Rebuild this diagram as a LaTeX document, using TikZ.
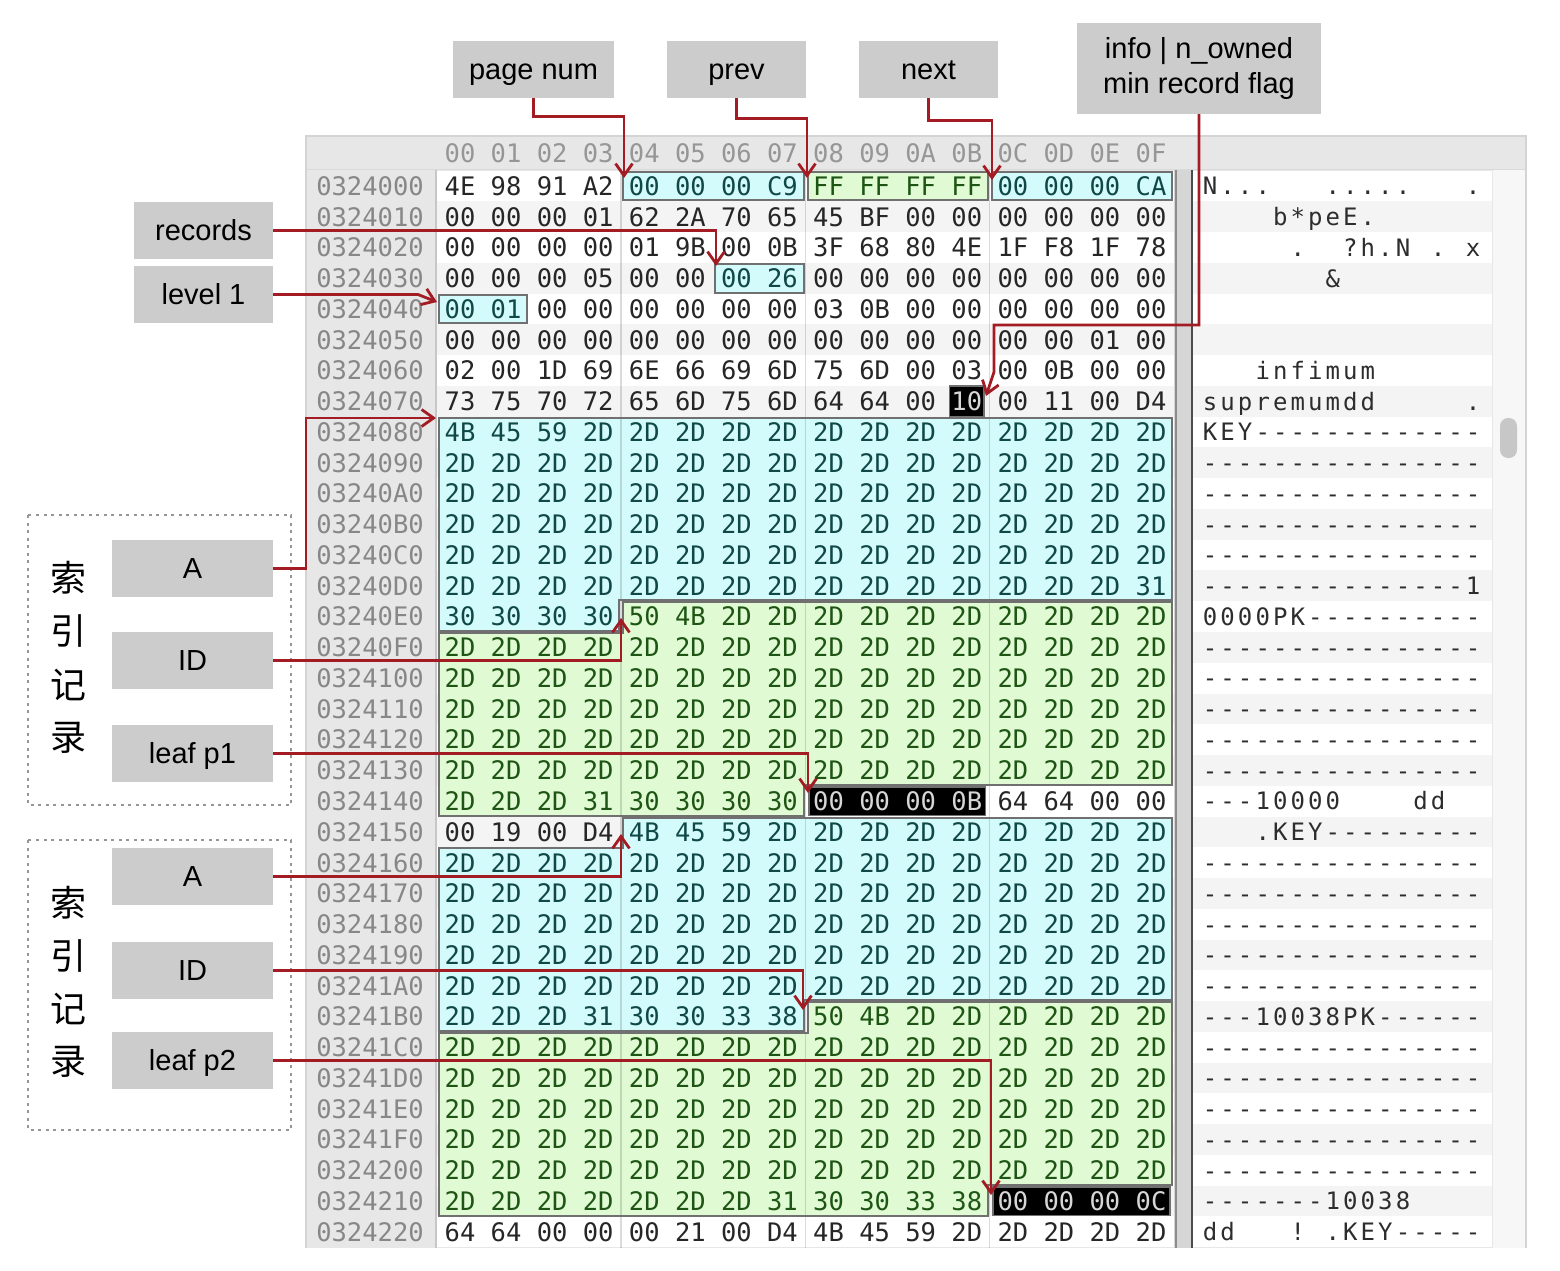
\documentclass[tikz,border=0pt]{standalone}
\usepackage{fontspec}
\setmainfont{Liberation Sans}
\newfontfamily\hexfont{DejaVu Sans Mono}
\newfontfamily\cjk{Noto Sans CJK SC}
\usetikzlibrary{arrows.meta}

\definecolor{arrowred}{RGB}{163,28,36}
\definecolor{labelgray}{RGB}{204,204,204}
\definecolor{cyanfill}{RGB}{212,251,252}
\definecolor{greenfill}{RGB}{224,251,212}
\definecolor{cyantext}{RGB}{16,72,72}
\definecolor{greentext}{RGB}{30,85,20}
\definecolor{plaintext}{RGB}{38,38,38}
\definecolor{blacktext}{RGB}{215,215,215}
\definecolor{offsettext}{RGB}{135,135,135}
\definecolor{headertext}{RGB}{150,150,150}
\definecolor{regionborder}{RGB}{112,112,112}
\definecolor{stripe}{RGB}{244,244,244}
\definecolor{panelgray}{RGB}{231,231,231}
\definecolor{panelborder}{RGB}{212,212,212}
\definecolor{sepgray}{RGB}{214,214,214}
\definecolor{asciitext}{RGB}{45,45,45}
\definecolor{dotgray}{RGB}{150,150,150}

\makeatletter
\newcommand\asciiline[1]{\@tfor\asch:=#1\do{\makebox[17.53pt][c]{\asch}}}
\makeatother

\newcommand\chk[4]{\ifnum#1<#2\relax\else\ifnum#1>#3\relax\else\gdef\hc{#4}\fi\fi}
\newcommand\setbc[1]{\gdef\hc{plaintext}%
 \chk{#1}{4}{7}{cyantext}\chk{#1}{8}{11}{greentext}\chk{#1}{12}{15}{cyantext}%
 \chk{#1}{54}{55}{cyantext}\chk{#1}{64}{65}{cyantext}\chk{#1}{123}{123}{blacktext}%
 \chk{#1}{128}{227}{cyantext}\chk{#1}{228}{327}{greentext}\chk{#1}{328}{331}{blacktext}%
 \chk{#1}{340}{439}{cyantext}\chk{#1}{440}{539}{greentext}\chk{#1}{540}{543}{blacktext}}

\newcommand\rowboxpath[4]{%
 \pgfmathsetmacro\rbxa{460+46.07*#2-21}%
 \pgfmathsetmacro\rbxb{460+46.07*#3+21}%
 \pgfmathsetmacro\rbya{186+30.76*#1-14.4}%
 \pgfmathsetmacro\rbyb{186+30.76*#1+14.4}%
 \path[#4] (\rbxa,\rbya) rectangle (\rbxb,\rbyb);}

\newcommand\regionpath[5]{%
 \pgfmathsetmacro\rgxa{460+46.07*#2-21}%
 \pgfmathsetmacro\rgxb{460+46.07*#4+21}%
 \pgfmathsetmacro\rgya{186+30.76*#1-14.4}%
 \pgfmathsetmacro\rgyb{186+30.76*(#1+1)-14.4}%
 \pgfmathsetmacro\rgyc{186+30.76*(#3-1)+14.4}%
 \pgfmathsetmacro\rgyd{186+30.76*#3+14.4}%
 \path[#5] (\rgxa,\rgya) -- (1172.1,\rgya) -- (1172.1,\rgyc) -- (\rgxb,\rgyc) -- (\rgxb,\rgyd) -- (439,\rgyd) -- (439,\rgyb) -- (\rgxa,\rgyb) -- cycle;}

\tikzset{
 hexbyte/.style={anchor=base, inner sep=0pt, font=\hexfont\fontsize{25.5}{26}\selectfont},
 asciitxt/.style={anchor=base west, inner sep=0pt, text=asciitext, font=\hexfont\fontsize{24}{24}\selectfont},
 lblbase/.style={fill=labelgray, inner sep=0pt, minimum width=#1, font=\fontsize{29}{35}\selectfont, align=center},
 lbl/.style={lblbase=#1, minimum height=57pt, text height=24pt, text depth=3.2pt},
 cjkchar/.style={inner sep=0pt, font=\cjk\fontsize{36}{36}\selectfont},
 arr/.style={draw=arrowred, line width=2.8pt, -{Straight Barb[length=12pt,width=17pt]}},
 groupbox/.style={draw=dotgray, line width=1.8pt, dash pattern=on 3pt off 4.5pt},
 blackbox/.style={fill=black, draw=regionborder, line width=1.5pt}
}

\newcommand\asc[2]{\node[asciitxt] (a#1) at (1201.2, 194.75+30.76*#1) {\asciiline{#2}};}

\begin{document}
\begin{tikzpicture}[x=1pt,y=-1pt]
\useasboundingbox (0,0) rectangle (1560,1270);
\fill[white] (0,0) rectangle (1560,1270);

% ---------- panel ----------
\fill[panelgray] (306,136) rectangle (1526,1248);
\foreach \r in {0,...,34}{
  \pgfmathsetmacro\yt{170.6+30.76*\r}
  \pgfmathtruncatemacro\odd{mod(\r,2)}
  \ifnum\odd=1 \def\sc{stripe}\else\def\sc{white}\fi
  \fill[\sc] (436,\yt) rectangle (1174,\yt+30.76);
  \fill[\sc] (1193,\yt) rectangle (1492,\yt+30.76);
}
\fill[sepgray] (1174,169) rectangle (1192,1248);
\draw[color=black!45, line width=1.5pt] (1176,169) -- (1176,1248);
\draw[color=black!70, line width=2pt] (1192,169) -- (1192,1248);
\fill[black!3] (1493,169) rectangle (1525,1248);
\fill[black!22, rounded corners=8pt] (1500,418) rectangle (1517,458);
\draw[color=black!22, line width=1.5pt] (436,169) -- (436,1248);
\draw[color=black!15, line width=1pt] (306,169) -- (1526,169);
\draw[panelborder, line width=2pt] (306,1248) -- (306,136) -- (1526,136) -- (1526,1248);

% ---------- highlighted regions (fills) ----------
\rowboxpath{0}{4}{7}{fill=cyanfill}
\rowboxpath{0}{8}{11}{fill=greenfill}
\rowboxpath{0}{12}{15}{fill=cyanfill}
\rowboxpath{3}{6}{7}{fill=cyanfill}
\rowboxpath{4}{0}{1}{fill=cyanfill}
\regionpath{8}{0}{14}{3}{fill=cyanfill}
\regionpath{14}{4}{20}{7}{fill=greenfill}
\regionpath{21}{4}{27}{7}{fill=cyanfill}
\regionpath{27}{8}{33}{11}{fill=greenfill}

% group separators
\foreach \x in {621,805.3,989.5}{\draw[color=black, opacity=0.14, line width=1.5pt] (\x,169) -- (\x,1248);}

% region borders
\rowboxpath{0}{4}{7}{draw=regionborder, line width=2pt}
\rowboxpath{0}{8}{11}{draw=regionborder, line width=2pt}
\rowboxpath{0}{12}{15}{draw=regionborder, line width=2pt}
\rowboxpath{3}{6}{7}{draw=regionborder, line width=2pt}
\rowboxpath{4}{0}{1}{draw=regionborder, line width=2pt}
\regionpath{8}{0}{14}{3}{draw=regionborder, line width=2pt}
\regionpath{14}{4}{20}{7}{draw=regionborder, line width=2pt}
\regionpath{21}{4}{27}{7}{draw=regionborder, line width=2pt}
\regionpath{27}{8}{33}{11}{draw=regionborder, line width=2pt}

% black boxes
\path[blackbox] (949.5,386) rectangle (984,416.5);
\path[blackbox] (809,787) rectangle (985.5,815.5);
\path[blackbox] (993,1187) rectangle (1170,1215.5);

% ---------- header and offsets ----------
\foreach \h [count=\cc from 0] in {00,01,02,03,04,05,06,07,08,09,0A,0B,0C,0D,0E,0F}{
  \node[hexbyte, text=headertext] (h\cc) at (460+46.07*\cc, 162.3) {\h};
}
\foreach \o [count=\r from 0] in {0324000,0324010,0324020,0324030,0324040,0324050,0324060,0324070,0324080,0324090,03240A0,03240B0,03240C0,03240D0,03240E0,03240F0,0324100,0324110,0324120,0324130,0324140,0324150,0324160,0324170,0324180,0324190,03241A0,03241B0,03241C0,03241D0,03241E0,03241F0,0324200,0324210,0324220}{
  \node[hexbyte, text=offsettext] (o\r) at (370, 195.3+30.76*\r) {\o};
}

% ---------- hex bytes ----------
\foreach \r/\row in {
0/{4E,98,91,A2,00,00,00,C9,FF,FF,FF,FF,00,00,00,CA},
1/{00,00,00,01,62,2A,70,65,45,BF,00,00,00,00,00,00},
2/{00,00,00,00,01,9B,00,0B,3F,68,80,4E,1F,F8,1F,78},
3/{00,00,00,05,00,00,00,26,00,00,00,00,00,00,00,00},
4/{00,01,00,00,00,00,00,00,03,0B,00,00,00,00,00,00},
5/{00,00,00,00,00,00,00,00,00,00,00,00,00,00,01,00},
6/{02,00,1D,69,6E,66,69,6D,75,6D,00,03,00,0B,00,00},
7/{73,75,70,72,65,6D,75,6D,64,64,00,10,00,11,00,D4},
8/{4B,45,59,2D,2D,2D,2D,2D,2D,2D,2D,2D,2D,2D,2D,2D},
13/{2D,2D,2D,2D,2D,2D,2D,2D,2D,2D,2D,2D,2D,2D,2D,31},
14/{30,30,30,30,50,4B,2D,2D,2D,2D,2D,2D,2D,2D,2D,2D},
20/{2D,2D,2D,31,30,30,30,30,00,00,00,0B,64,64,00,00},
21/{00,19,00,D4,4B,45,59,2D,2D,2D,2D,2D,2D,2D,2D,2D},
27/{2D,2D,2D,31,30,30,33,38,50,4B,2D,2D,2D,2D,2D,2D},
33/{2D,2D,2D,2D,2D,2D,2D,31,30,30,33,38,00,00,00,0C},
34/{64,64,00,00,00,21,00,D4,4B,45,59,2D,2D,2D,2D,2D}}{
  \foreach \b [count=\cc from 0] in \row {
    \pgfmathtruncatemacro\idx{16*\r+\cc}
    \setbc{\idx}
    \node[hexbyte, text=\hc] (b\r-\cc) at (460+46.07*\cc, 195.3+30.76*\r) {\b};
  }
}
\foreach \r in {9,10,11,12,15,16,17,18,19,22,23,24,25,26,28,29,30,31,32}{
  \foreach \cc in {0,...,15}{
    \pgfmathtruncatemacro\idx{16*\r+\cc}
    \setbc{\idx}
    \node[hexbyte, text=\hc] (b\r-\cc) at (460+46.07*\cc, 195.3+30.76*\r) {2D};
  }
}

% ---------- ASCII column ----------
\asc{0}{N...~~~.....~~~.}
\asc{1}{~~~~b*peE.~~~~~~}
\asc{2}{~~~~~.~~?h.N~.~x}
\asc{3}{~~~~~~~\&~~~~~~~~}
\asc{6}{~~~infimum~~~~~~}
\asc{7}{supremumdd~~~~~.}
\asc{8}{KEY-------------}
\foreach \r in {9,10,11,12,15,16,17,18,19,22,23,24,25,26,28,29,30,31,32}{\asc{\r}{----------------}}
\asc{13}{---------------1}
\asc{14}{0000PK----------}
\asc{20}{---10000~~~~dd~~}
\asc{21}{~~~.KEY---------}
\asc{27}{---10038PK------}
\asc{33}{-------10038~~~~}
\asc{34}{dd~~~!~.KEY-----}

% ---------- label boxes ----------
\node[lbl=161pt] (pagenum) at (533.5,69.5) {page num};
\node[lbl=139pt] (prev) at (736.5,69.5) {prev};
\node[lbl=139pt] (next) at (928.5,69.5) {next};
\node[lblbase=244pt, minimum height=91pt] (info) at (1199,68.5) {info | n\_owned\\min record flag};
\node[lbl=139pt] (records) at (203.5,230.5) {records};
\node[lbl=139pt] (level) at (203.5,294.5) {level 1};

\draw[groupbox] (28,515) rectangle (291,805);
\draw[groupbox] (28,840) rectangle (291,1130);
\node[cjkchar] (g1a) at (68,578) {索};
\node[cjkchar] (g1b) at (68,631) {引};
\node[cjkchar] (g1c) at (68,685) {记};
\node[cjkchar] (g1d) at (68,738) {录};
\node[cjkchar] (g2a) at (68,903) {索};
\node[cjkchar] (g2b) at (68,956) {引};
\node[cjkchar] (g2c) at (68,1009) {记};
\node[cjkchar] (g2d) at (68,1062) {录};

\node[lbl=161pt] (A1) at (192.5,568.5) {A};
\node[lbl=161pt] (ID1) at (192.5,660.5) {ID};
\node[lbl=161pt] (leaf1) at (192.5,753.5) {leaf p1};
\node[lbl=161pt] (A2) at (192.5,876.5) {A};
\node[lbl=161pt] (ID2) at (192.5,970.5) {ID};
\node[lbl=161pt] (leaf2) at (192.5,1060.5) {leaf p2};

% ---------- connectors ----------
\coordinate (tPage) at (624,178);
\coordinate (tPrev) at (807,178);
\coordinate (tNext) at (992,180);
\coordinate (bInfo1) at (1199,325);
\coordinate (bInfo2) at (994,372);
\coordinate (tInfo) at (986,396);
\coordinate (tRec) at (716,266);
\coordinate (bLevel) at (418,294.5);
\coordinate (tLevel) at (437,302);
\coordinate (bA1) at (306,418);
\coordinate (tA1) at (436,418);
\coordinate (tID1) at (621,618);
\coordinate (tL1) at (808,793);
\coordinate (tA2) at (621,834);
\coordinate (tID2) at (803,1010);
\coordinate (tL2) at (991,1195);

\draw[arr] (pagenum.south) -- ++(0,18) -| (tPage);
\draw[arr] (prev.south) -- ++(0,20) -| (tPrev);
\draw[arr] (next.south) -- ++(0,22) -| (tNext);
\draw[arr] (info.south) -- (bInfo1) -| (bInfo2) -- (tInfo);
\draw[arr] (records.east) -| (tRec);
\draw[arr] (level.east) -- (bLevel) -- (tLevel);
\draw[arr] (A1.east) -| (bA1) -- (tA1);
\draw[arr] (ID1.east) -| (tID1);
\draw[arr] (leaf1.east) -| (tL1);
\draw[arr] (A2.east) -| (tA2);
\draw[arr] (ID2.east) -| (tID2);
\draw[arr] (leaf2.east) -| (tL2);
\end{tikzpicture}
\end{document}
